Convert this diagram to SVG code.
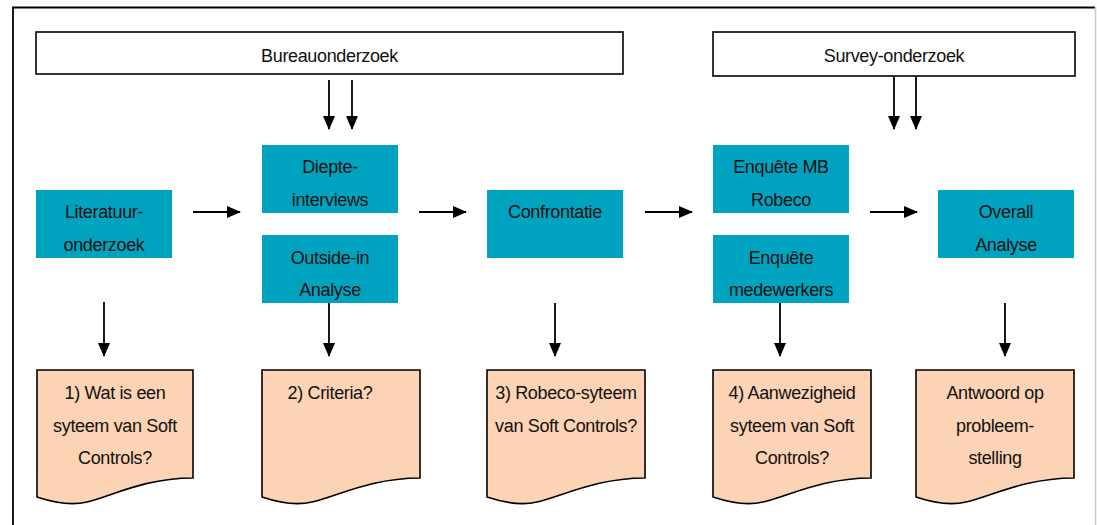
<svg xmlns="http://www.w3.org/2000/svg" width="1097" height="525" viewBox="0 0 1097 525">
  <style>
    .t { font-family: "Liberation Sans", Arial, sans-serif; font-size: 18px; letter-spacing: -0.35px; fill: #111; text-anchor: middle; }
    .hdr { fill: #fff; stroke: #000; stroke-width: 1.6; }
    .step { fill: #00A3BF; }
    .doc { fill: #FCD3B4; stroke: #000; stroke-width: 1.6; }
    .arr { stroke: #000; stroke-width: 1.8; fill: none; marker-end: url(#head); }
  </style>
  <defs>
    <marker id="head" viewBox="0 0 14 12" refX="13" refY="6" markerWidth="14" markerHeight="12" orient="auto" markerUnits="userSpaceOnUse">
      <path d="M0,0 L14,6 L0,12 Z" fill="#000"/>
    </marker>
  </defs>

  <rect width="1097" height="525" fill="#fff"/>

  <!-- outer frame -->
  <g id="frame">
    <path d="M13,525 V7.5 H1095" fill="none" stroke="#000" stroke-width="1.8"/>
    <line x1="1095.5" y1="7" x2="1095.5" y2="525" stroke="#c8c8c8" stroke-width="1.5"/>
  </g>

  <!-- research tracks -->
  <g id="bureauonderzoek">
    <rect class="hdr" x="36" y="32" width="587" height="42"/>
    <text class="t" x="329.5" y="62">Bureauonderzoek</text>
  </g>
  <g id="survey-onderzoek">
    <rect class="hdr" x="713" y="32" width="362" height="44"/>
    <text class="t" x="894" y="62">Survey-onderzoek</text>
  </g>

  <!-- process steps -->
  <g id="literatuuronderzoek">
    <rect class="step" x="36" y="190" width="136" height="68"/>
    <text class="t" x="104" y="218">Literatuur-</text>
    <text class="t" x="104" y="251">onderzoek</text>
  </g>
  <g id="diepte-interviews">
    <rect class="step" x="262" y="145" width="136" height="68"/>
    <text class="t" x="330" y="173">Diepte-</text>
    <text class="t" x="330" y="206">interviews</text>
  </g>
  <g id="outside-in-analyse">
    <rect class="step" x="262" y="235" width="136" height="68"/>
    <text class="t" x="330" y="264">Outside-in</text>
    <text class="t" x="330" y="296">Analyse</text>
  </g>
  <g id="confrontatie">
    <rect class="step" x="487" y="190" width="136" height="68"/>
    <text class="t" x="555" y="218">Confrontatie</text>
  </g>
  <g id="enquete-mb">
    <rect class="step" x="713" y="145" width="136" height="68"/>
    <text class="t" x="781" y="173">Enquête MB</text>
    <text class="t" x="781" y="206">Robeco</text>
  </g>
  <g id="enquete-medewerkers">
    <rect class="step" x="713" y="235" width="136" height="68"/>
    <text class="t" x="781" y="264">Enquête</text>
    <text class="t" x="781" y="296">medewerkers</text>
  </g>
  <g id="overall-analyse">
    <rect class="step" x="938" y="190" width="136" height="68"/>
    <text class="t" x="1006" y="218">Overall</text>
    <text class="t" x="1006" y="251">Analyse</text>
  </g>

  <!-- outcome documents -->
  <g id="doc-1">
    <path class="doc" d="M37,370 H193 V478 C143,478 110,497 87,502 C70,506 52,502 37,497 Z"/>
    <text class="t" x="115" y="399">1) Wat is een</text>
    <text class="t" x="115" y="432">syteem van Soft</text>
    <text class="t" x="115" y="464">Controls?</text>
  </g>
  <g id="doc-2">
    <path class="doc" d="M262,370 H420 V478 C370,478 336,497 312,502 C295,506 277,502 262,497 Z"/>
    <text class="t" x="330" y="399">2) Criteria?</text>
  </g>
  <g id="doc-3">
    <path class="doc" d="M487,370 H645 V478 C595,478 561,497 537,502 C520,506 502,502 487,497 Z"/>
    <text class="t" x="566" y="399">3) Robeco-syteem</text>
    <text class="t" x="566" y="432">van Soft Controls?</text>
  </g>
  <g id="doc-4">
    <path class="doc" d="M713,370 H871 V478 C821,478 787,497 763,502 C746,506 728,502 713,497 Z"/>
    <text class="t" x="792" y="399">4) Aanwezigheid</text>
    <text class="t" x="792" y="432">syteem van Soft</text>
    <text class="t" x="792" y="464">Controls?</text>
  </g>
  <g id="doc-5">
    <path class="doc" d="M916,370 H1074 V478 C1024,478 990,497 966,502 C949,506 931,502 916,497 Z"/>
    <text class="t" x="995" y="399">Antwoord op</text>
    <text class="t" x="995" y="432">probleem-</text>
    <text class="t" x="995" y="464">stelling</text>
  </g>

  <!-- connectors -->
  <g id="connectors">
    <line class="arr" x1="329" y1="80" x2="329" y2="129"/>
    <line class="arr" x1="352" y1="80" x2="352" y2="129"/>
    <line class="arr" x1="894" y1="77" x2="894" y2="129"/>
    <line class="arr" x1="916" y1="77" x2="916" y2="129"/>

    <line class="arr" x1="193" y1="212" x2="240" y2="212"/>
    <line class="arr" x1="419" y1="212" x2="466" y2="212"/>
    <line class="arr" x1="645" y1="212" x2="692" y2="212"/>
    <line class="arr" x1="870" y1="212" x2="917" y2="212"/>

    <line class="arr" x1="104" y1="302" x2="104" y2="356"/>
    <line class="arr" x1="329" y1="303" x2="329" y2="356"/>
    <line class="arr" x1="555" y1="303" x2="555" y2="356"/>
    <line class="arr" x1="780" y1="303" x2="780" y2="356"/>
    <line class="arr" x1="1005" y1="303" x2="1005" y2="356"/>
  </g>
</svg>
